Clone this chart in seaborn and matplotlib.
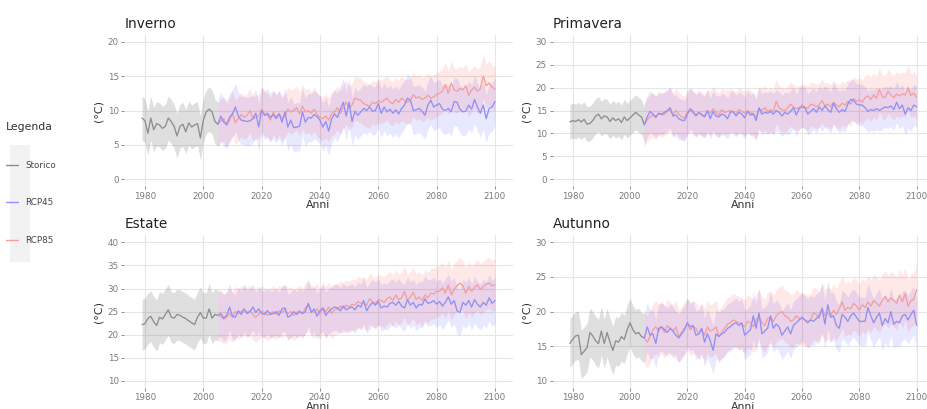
import numpy as np
import pandas as pd
import matplotlib.pyplot as plt
import seaborn as sns
from matplotlib.lines import Line2D
from matplotlib.patches import Rectangle

# --- dati ---
anni_storico = list(range(1979, 2006))
anni_scenari = list(range(2005, 2101))

inverno_storico = [8.9, 8.5, 6.7, 8.9, 7.2, 8.1, 7.9, 7.4, 7.7, 8.9, 8.4, 7.7, 6.3, 7.7,
                   8.0, 6.9, 8.2, 7.6, 7.9, 8.1, 6.0, 8.6, 9.8, 10.2, 9.8, 8.4, 8.0]
inverno_rcp45 = [8.0, 9.2, 8.3, 8.0, 9.0, 9.5, 10.5, 9.2, 8.6, 8.5,
                 8.4, 8.5, 8.8, 9.6, 7.6, 10.0, 9.3, 9.6, 9.0, 9.4,
                 8.8, 9.5, 8.3, 9.8, 7.6, 8.6, 7.5, 7.6, 7.7, 9.8,
                 8.3, 9.0, 8.9, 9.4, 9.1, 8.6, 7.6, 8.4, 7.0, 8.8,
                 9.5, 9.0, 10.2, 11.2, 9.2, 11.2, 8.4, 9.9, 9.3, 9.8,
                 10.3, 10.0, 10.5, 9.9, 10.0, 11.0, 9.6, 10.5, 9.8, 10.2,
                 9.6, 10.1, 9.5, 10.3, 10.8, 11.8, 11.5, 10.0, 10.1, 10.3,
                 9.9, 9.3, 10.8, 11.5, 10.5, 10.8, 11.0, 10.2, 10.0, 10.3,
                 9.8, 11.3, 11.2, 10.2, 9.8, 9.9, 10.8, 10.2, 11.6, 10.5,
                 9.6, 10.8, 8.8, 10.3, 10.5, 11.3]
inverno_rcp85 = [8.0, 8.5, 8.8, 7.8, 8.6, 9.6, 8.2, 8.8, 9.4, 9.0,
                 9.3, 10.0, 8.8, 9.0, 9.2, 10.2, 9.5, 9.3, 8.6, 9.8,
                 9.0, 9.6, 8.8, 9.2, 10.2, 9.8, 10.0, 10.4, 9.5, 10.6,
                 9.8, 10.0, 9.6, 10.2, 9.4, 9.0, 8.8, 9.2, 8.6, 9.5,
                 9.8, 10.4, 9.6, 10.5, 11.2, 10.3, 10.8, 11.8, 11.6, 11.5,
                 11.0, 10.8, 10.6, 11.2, 11.0, 11.4, 11.2, 11.5, 11.8, 11.2,
                 11.0, 11.6, 11.2, 11.8, 11.4, 11.2, 11.5, 12.3, 11.8, 12.0,
                 11.6, 11.8, 12.2, 11.8, 12.0, 12.3, 12.5, 12.8, 13.8, 12.5,
                 14.0, 13.0, 12.8, 13.2, 13.0, 13.6, 12.2, 13.0, 13.4, 12.8,
                 13.2, 15.0, 13.6, 14.0, 13.4, 13.1]

primavera_storico = [12.5, 12.8, 12.6, 13.0, 12.5, 13.1, 12.0, 12.2, 12.8, 13.8, 14.2, 13.2,
                     13.8, 13.6, 12.6, 13.4, 12.8, 13.2, 12.4, 13.6, 12.8, 13.4, 14.0, 14.6,
                     14.0, 13.6, 11.9]
primavera_rcp45 = [11.9, 13.6, 14.8, 14.2, 13.6, 14.4, 14.2, 14.6, 15.0, 15.6,
                   13.8, 14.0, 13.2, 12.9, 12.8, 14.2, 15.4, 14.8, 13.8, 14.6,
                   14.0, 13.6, 15.0, 13.2, 14.8, 13.8, 13.6, 14.2, 14.0, 13.2,
                   14.6, 14.8, 13.8, 14.6, 14.2, 13.4, 14.8, 14.0, 14.4, 12.8,
                   15.6, 14.2, 14.6, 14.4, 14.8, 14.2, 15.0, 14.6, 13.8, 14.6,
                   14.2, 14.8, 15.6, 14.0, 15.4, 15.8, 15.6, 14.2, 14.8, 15.4,
                   14.6, 15.8, 15.0, 16.0, 15.2, 14.6, 16.6, 15.4, 14.6, 15.2,
                   14.8, 16.4, 17.4, 17.2, 16.4, 16.2, 16.2, 15.6, 14.8, 15.2,
                   15.0, 15.4, 15.0, 15.4, 15.8, 15.6, 16.0, 15.2, 16.8, 15.4,
                   16.2, 14.2, 15.6, 15.0, 16.2, 15.8]
primavera_rcp85 = [11.9, 13.0, 13.6, 14.0, 13.4, 14.4, 14.0, 14.2, 14.8, 15.2,
                   14.0, 15.0, 14.2, 13.6, 13.4, 14.8, 15.0, 14.4, 14.0, 14.6,
                   14.2, 13.8, 14.8, 14.4, 15.4, 14.6, 14.0, 15.2, 14.6, 14.8,
                   15.0, 14.6, 14.2, 15.2, 14.8, 14.4, 15.0, 14.6, 14.0, 13.6,
                   15.4, 15.0, 15.6, 14.8, 15.2, 14.8, 17.0, 15.6, 15.2, 15.0,
                   15.6, 16.4, 15.8, 15.4, 15.6, 16.2, 15.8, 15.4, 16.4, 16.2,
                   15.8, 16.2, 17.2, 16.0, 16.4, 15.8, 16.8, 16.2, 15.8, 16.6,
                   16.2, 17.0, 16.4, 17.6, 17.0, 17.4, 16.8, 17.8, 18.2, 17.4,
                   18.4, 17.6, 19.6, 18.0, 17.8, 19.2, 18.4, 17.8, 18.6, 18.2,
                   18.6, 18.4, 20.0, 18.2, 18.8, 17.8]

estate_storico = [22.2, 22.4, 23.5, 24.0, 22.8, 22.0, 23.8, 23.4, 24.4, 25.4, 23.8, 23.6,
                  24.4, 24.2, 23.8, 23.5, 23.0, 22.6, 22.2, 23.8, 24.8, 23.6, 23.6, 25.6,
                  23.6, 24.4, 24.2]
estate_rcp45 = [24.2, 24.6, 23.6, 24.2, 26.0, 24.0, 23.8, 25.2, 24.4, 25.6,
                24.6, 25.0, 26.0, 24.8, 25.6, 24.6, 24.4, 25.2, 24.4, 24.6,
                25.0, 24.2, 25.6, 25.8, 23.8, 24.2, 25.0, 24.4, 25.0, 24.6,
                25.0, 26.8, 24.8, 25.6, 24.0, 25.2, 25.8, 24.2, 25.0, 25.6,
                26.0, 25.8, 25.2, 26.2, 25.4, 25.8, 26.0, 25.4, 26.4, 26.0,
                27.4, 25.2, 26.2, 27.0, 26.4, 27.2, 25.8, 26.2, 26.0, 26.8,
                27.0, 26.4, 27.2, 26.2, 25.8, 27.6, 26.4, 27.0, 25.8, 26.6,
                26.4, 27.8, 26.8, 27.0, 27.4, 26.6, 27.2, 26.2, 27.0, 28.2,
                26.6, 27.4, 25.2, 24.8, 27.0, 26.4, 27.4, 26.0, 27.6, 26.6,
                26.0, 27.0, 26.4, 28.0, 26.8, 27.4]
estate_rcp85 = [24.2, 24.0, 23.4, 23.8, 24.6, 23.8, 25.0, 24.6, 25.0, 25.4,
                24.8, 25.2, 24.4, 23.8, 24.4, 25.0, 24.8, 24.2, 24.6, 25.0,
                24.4, 25.2, 24.8, 25.4, 24.6, 25.0, 24.2, 24.8, 25.2, 24.6,
                25.8, 26.4, 25.2, 24.8, 25.6, 24.4, 25.8, 25.0, 26.0, 24.6,
                25.4, 25.6, 26.2, 25.8, 26.4, 26.0, 26.6, 26.4, 27.2, 26.8,
                27.0, 26.4, 27.8, 27.2, 26.8, 27.6, 27.4, 27.0, 27.8, 28.2,
                27.4, 28.6, 27.6, 28.0, 29.4, 27.4, 28.2, 29.2, 27.6, 28.2,
                27.4, 28.6, 28.0, 29.0, 28.8, 29.4, 29.4, 30.2, 29.0, 30.8,
                28.6, 29.8, 30.6, 31.2, 30.6, 29.0, 30.4, 29.4, 30.2, 30.8,
                29.8, 30.4, 31.0, 31.2, 30.6, 30.8]

autunno_storico = [15.4, 16.0, 16.5, 16.6, 13.8, 14.3, 14.8, 17.0, 16.5, 15.8, 15.4, 17.2,
                   15.4, 17.0, 15.6, 14.4, 15.8, 15.6, 16.4, 16.0, 17.4, 18.4, 17.4, 16.8,
                   17.0, 16.4, 16.2]
autunno_rcp45 = [16.2, 17.8, 16.6, 16.8, 15.4, 17.6, 17.8, 17.4, 17.0, 17.6,
                 17.2, 16.6, 16.2, 16.8, 17.4, 18.4, 17.8, 18.0, 16.6, 16.8,
                 17.6, 15.6, 16.8, 15.8, 14.4, 16.8, 16.4, 16.8, 17.0, 17.6,
                 17.8, 18.2, 18.4, 18.0, 18.4, 16.6, 17.0, 17.4, 19.4, 17.6,
                 19.8, 16.8, 17.2, 17.6, 19.4, 17.6, 18.2, 17.8, 16.6, 17.2,
                 17.8, 16.8, 18.0, 18.4, 18.8, 19.2, 18.8, 18.4, 18.8, 18.6,
                 19.0, 19.4, 20.4, 18.2, 21.0, 19.2, 19.4, 18.0, 17.6, 19.6,
                 19.2, 18.6, 19.4, 19.8, 19.2, 18.6, 18.6, 18.6, 20.6, 19.4,
                 18.4, 19.2, 19.8, 18.0, 19.0, 18.4, 20.0, 18.2, 18.6, 18.4,
                 19.4, 19.6, 18.8, 19.6, 20.2, 18.0]
autunno_rcp85 = [16.2, 15.6, 16.4, 17.4, 17.8, 17.2, 17.8, 17.0, 18.0, 17.6,
                 17.2, 17.8, 16.4, 17.0, 17.6, 18.2, 17.4, 17.8, 17.6, 16.8,
                 17.4, 16.6, 17.8, 17.2, 17.4, 17.8, 16.4, 17.0, 17.6, 18.2,
                 18.4, 18.8, 18.6, 18.4, 18.2, 17.8, 18.6, 18.4, 17.8, 18.8,
                 19.4, 18.4, 18.0, 19.0, 19.2, 18.6, 19.4, 19.8, 20.0, 19.4,
                 19.2, 18.6, 18.8, 19.4, 19.0, 19.0, 18.8, 18.6, 18.8, 19.8,
                 19.6, 19.0, 20.6, 19.4, 19.8, 19.4, 20.2, 19.6, 20.4, 21.4,
                 20.2, 20.6, 20.4, 21.2, 20.8, 20.2, 21.0, 20.6, 21.4, 20.8,
                 21.6, 21.2, 20.8, 21.6, 22.2, 21.4, 22.0, 21.6, 21.2, 22.4,
                 21.4, 22.6, 20.8, 21.6, 21.8, 23.2]

# semi-ampiezza delle bande (storico, RCP45, RCP85)
inverno_banda = [3.2, 3.5, 3.2]
primavera_banda = [3.8, 4.5, 4.8]
estate_banda = [5.5, 5.0, 5.5]
autunno_banda = [3.5, 3.5, 3.8]

inverno_yticks = [0, 5, 10, 15, 20]
primavera_yticks = [0, 5, 10, 15, 20, 25, 30]
estate_yticks = [10, 15, 20, 25, 30, 35, 40]
autunno_yticks = [10, 15, 20, 25, 30]
xticks = [1980, 2000, 2020, 2040, 2060, 2080, 2100]

serie = ['Storico', 'RCP45', 'RCP85']
col_linea = {'Storico': '#8e8e8e', 'RCP45': '#9090f5', 'RCP85': '#f2a0a0'}
col_banda = {'Storico': ('grey', 0.25), 'RCP45': ('blue', 0.09), 'RCP85': ('red', 0.09)}

sns.set_theme(style='white')
plt.rcParams['font.family'] = ['DejaVu Sans']

W, H = 928, 409
fig = plt.figure(figsize=(W / 100, H / 100), dpi=100)


def pannello(left, right, top, bottom):
    return fig.add_axes([left / W, 1 - bottom / H, (right - left) / W, (bottom - top) / H])


def disegna(ax, titolo, storico, rcp45, rcp85, banda, yticks):
    dati = {'Storico': (anni_storico, storico),
            'RCP45': (anni_scenari, rcp45),
            'RCP85': (anni_scenari, rcp85)}
    for k, nome in enumerate(serie):
        anni, val = dati[nome]
        val = np.array(val)
        c, a = col_banda[nome]
        ax.fill_between(anni, val - banda[k], val + banda[k], color=c, alpha=a,
                        linewidth=0, zorder=1)
    for nome in ['Storico', 'RCP85', 'RCP45']:
        anni, val = dati[nome]
        df = pd.DataFrame({'anno': anni, 'temp': val})
        sns.lineplot(data=df, x='anno', y='temp', color=col_linea[nome], lw=0.95, ax=ax, zorder=3)

    lo, hi = yticks[0], yticks[-1]
    pad = (hi - lo) * 0.05
    ax.set_ylim(lo - pad, hi + pad)
    ax.set_xlim(1979 - 6.05, 2100 + 6.05)
    ax.set_yticks(yticks)
    ax.set_xticks(xticks)
    ax.grid(True, color='#e6e6e6', lw=0.8)
    ax.set_axisbelow(True)
    for s in ax.spines.values():
        s.set_visible(False)
    ax.tick_params(axis='both', labelsize=6.3, colors='#7a7a7a', length=2.5, width=0.6,
                   pad=1.5, left=True, bottom=True)
    ax.set_xlabel('Anni', fontsize=7.8, color='#333333', labelpad=-0.5)
    ax.set_ylabel('(°C)', fontsize=8, color='#333333', labelpad=3)
    ax.set_title(titolo, loc='left', fontsize=9.8, color='#222222', pad=5)


ax1 = pannello(124.4, 512.6, 34.8, 186.2)
ax2 = pannello(552.5, 934.0, 34.8, 186.2)
ax3 = pannello(124.4, 512.6, 235.4, 387.9)
ax4 = pannello(552.5, 934.0, 235.4, 387.9)

disegna(ax1, 'Inverno', inverno_storico, inverno_rcp45, inverno_rcp85, inverno_banda, inverno_yticks)
disegna(ax2, 'Primavera', primavera_storico, primavera_rcp45, primavera_rcp85, primavera_banda, primavera_yticks)
disegna(ax3, 'Estate', estate_storico, estate_rcp45, estate_rcp85, estate_banda, estate_yticks)
disegna(ax4, 'Autunno', autunno_storico, autunno_rcp45, autunno_rcp85, autunno_banda, autunno_yticks)

# legenda a sinistra con sfondo grigio dietro i simboli
fig.patches.append(Rectangle((10 / W, 1 - 262 / H), 20 / W, 117 / H, transform=fig.transFigure,
                             facecolor='#f2f2f2', edgecolor='none', zorder=0))
maniglie = [Line2D([], [], color=col_linea[n], lw=1.0) for n in serie]
leg = fig.legend(maniglie, serie, title='Legenda', loc='upper left',
                 bbox_to_anchor=(2 / W, 1 - 119 / H), frameon=False, fontsize=6.3,
                 title_fontsize=7.8, handlelength=1.4, handletextpad=0.9,
                 labelspacing=3.25, borderaxespad=0)
leg._legend_box.align = 'left'
leg.get_title().set_color('#333333')
for t in leg.get_texts():
    t.set_color('#444444')

fig.savefig('out.png', dpi=100)
